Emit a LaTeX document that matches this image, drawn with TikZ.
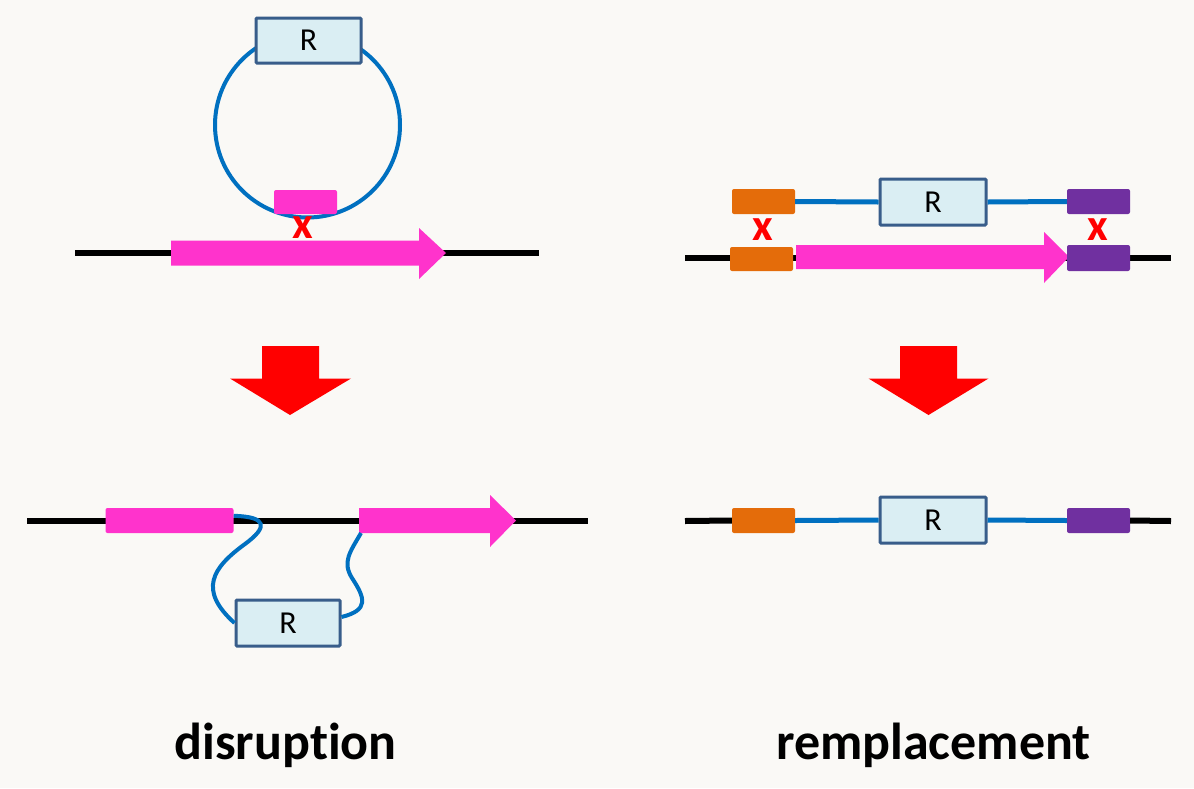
\documentclass[tikz,border=0pt]{standalone}
\usepackage{fontspec}
\setmainfont{Carlito}[Ligatures=NoCommon]
\definecolor{bg}{HTML}{FAF9F6}
\definecolor{pinkc}{HTML}{FF33CC}
\definecolor{bluec}{HTML}{0070C0}
\definecolor{rfill}{HTML}{DAEEF3}
\definecolor{rdraw}{HTML}{385D8A}
\definecolor{orangec}{HTML}{E46C0A}
\definecolor{purplec}{HTML}{7030A0}
\definecolor{redc}{HTML}{FF0000}
\begin{document}
\begin{tikzpicture}[x=1pt,y=-1pt,
  dna/.style={line width=6pt,black},
  vec/.style={line width=5pt,bluec},
  rbox/.style={draw=rdraw,line width=3pt,fill=rfill,rounded corners=1pt,inner sep=0pt,
    font=\fontsize{32}{32}\selectfont},
  seg/.style={rounded corners=2pt,inner sep=0pt,draw=none},
  cross/.style={text=redc,font=\fontsize{45}{45}\selectfont\bfseries,inner sep=0pt},
  bigarrow/.style={fill=redc},
  label/.style={font=\fontsize{52}{52}\selectfont\bfseries,anchor=base,inner sep=0pt}]
\useasboundingbox (0,0) rectangle (1194,788);
\fill[bg] (0,0) rectangle (1194,788);

% ---------- top left: disruption (before) ----------
\coordinate (tlA) at (75,253);
\coordinate (tlB) at (539,253);
\draw[dna] (tlA) -- (tlB);
\fill[pinkc] (171,240.5) -- (419,240.5) -- (419,228) -- (446,253) -- (419,279) -- (419,265.5) -- (171,265.5) -- cycle;
\node[circle,draw=bluec,line width=4pt,minimum size=185pt,inner sep=0pt] (plasmid) at (307.5,125) {};
\node[rbox,minimum width=105pt,minimum height=45pt] (R1) at (308.5,40.5) {R};
\node[seg,fill=pinkc,minimum width=63pt,minimum height=24pt] (hp) at (305.5,202) {};
\node[cross] (x1) at (302.5,228) {x};

% ---------- top right: remplacement (before) ----------
\coordinate (trA) at (685,258);
\coordinate (trB) at (1171,258);
\draw[dna] (trA) -- (trB);
\fill[pinkc] (796,245) -- (1044,245) -- (1044,232) -- (1069,257) -- (1044,283) -- (1044,269) -- (796,269) -- cycle;
\node[seg,fill=orangec,minimum width=63pt,minimum height=24pt] (ob) at (761.5,259) {};
\node[seg,fill=purplec,minimum width=63pt,minimum height=26pt] (pb) at (1098.5,258) {};
\node[seg,fill=orangec,minimum width=63pt,minimum height=25pt] (ot) at (763.5,201.5) {};
\node[seg,fill=purplec,minimum width=63pt,minimum height=25pt] (pt) at (1098.5,201.5) {};
\node[rbox,minimum width=106pt,minimum height=46pt] (R2) at (933,202) {R};
\draw[vec] (ot.east) -- (R2.west);
\draw[vec] (R2.east) -- (pt.west);
\node[cross] (x2) at (763,230) {x};
\node[cross] (x3) at (1098,230) {x};

% ---------- big red arrows ----------
\fill[bigarrow] (262,346) -- (319,346) -- (319,378.5) -- (351,378.5) -- (290,415) -- (230,378.5) -- (262,378.5) -- cycle;
\fill[bigarrow] (900,346) -- (957,346) -- (957,378.5) -- (988.5,378.5) -- (928.5,415) -- (868.5,378.5) -- (900,378.5) -- cycle;

% ---------- bottom left: disruption (after) ----------
\coordinate (blA) at (27,521);
\coordinate (blB) at (588,521);
\draw[dna] (blA) -- (blB);
\node[seg,fill=pinkc,minimum width=128pt,minimum height=25pt] (lp) at (169.5,520.5) {};
\fill[pinkc] (359,508) -- (490,508) -- (490,495) -- (516,520.5) -- (490,547) -- (490,533) -- (359,533) -- cycle;
\coordinate (ra) at (361,533);
\node[rbox,minimum width=104pt,minimum height=46pt] (R3) at (288,623) {R};
\draw[vec,line width=4pt] (lp.north east) ++(0,8) .. controls +(34,1) and (268,527) .. (245,544)
  .. controls (212,568) and (198,590) .. (R3.west);
\draw[vec,line width=4pt] (R3.east) ++(0,-6) .. controls +(28,-7) and (365,598) .. (352,578)
  .. controls (342,562) and (350,552) .. (ra);

% ---------- bottom right: remplacement (after) ----------
\node[seg,fill=orangec,minimum width=63pt,minimum height=25pt] (o2) at (763.5,520.5) {};
\node[seg,fill=purplec,minimum width=63pt,minimum height=25pt] (p2) at (1098.5,520.5) {};
\node[rbox,minimum width=106pt,minimum height=46pt] (R4) at (933,520) {R};
\coordinate (brA) at (685,521);
\coordinate (brB) at (1171,521);
\draw[dna] (brA) -- (o2.west);
\draw[dna] (p2.east) -- (brB);
\draw[vec] (o2.east) -- (R4.west);
\draw[vec] (R4.east) -- (p2.west);

% ---------- labels ----------
\node[label] (l1) at (285.5,759) {disruption};
\node[label] (l2) at (933.5,759) {remplacement};
\end{tikzpicture}
\end{document}
